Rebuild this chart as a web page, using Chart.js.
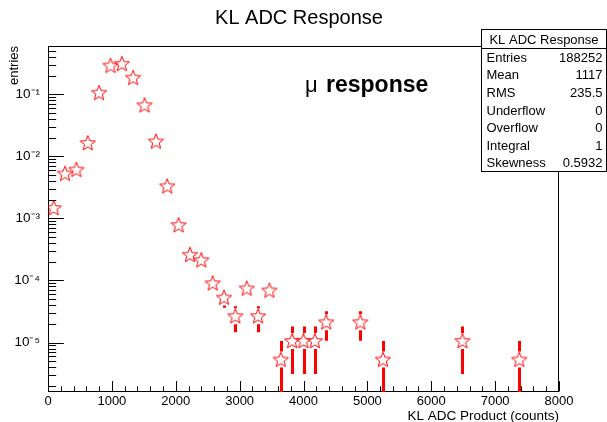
<!DOCTYPE html>
<html><head><meta charset="utf-8">
<script src="https://cdn.jsdelivr.net/npm/chart.js@4/dist/chart.umd.min.js"></script>
<style>html,body{margin:0;padding:0;background:#fff;} #wrap{width:607px;height:422px;}</style>
</head><body><div id="wrap"><canvas id="c" width="607" height="422"></canvas></div>
<script>
// ---- texts ----
const chartTitle = 'KL ADC Response';
const xAxisTitle = 'KL ADC Product (counts)';
const yAxisTitle = 'entries';
const annotationSymbol = 'μ';
const annotationText = 'response';
const statsTitle = 'KL ADC Response';
const statsLabels = ['Entries', 'Mean', 'RMS', 'Underflow', 'Overflow', 'Integral', 'Skewness'];
const statsValues = ['188252', '1117', '235.5', '0', '0', '1', '0.5932'];

// ---- data (non-empty bins, bin width 177.8) ----
const binCenters = [88.9, 266.7, 444.4, 622.2, 800.0, 977.8, 1155.6, 1333.3, 1511.1, 1688.9,
  1866.7, 2044.4, 2222.2, 2400.0, 2577.8, 2755.6, 2933.3, 3111.1, 3288.9, 3466.7,
  3644.4, 3822.2, 4000.0, 4177.8, 4355.6, 4888.9, 5244.4, 6488.9, 7377.8];
const entries = [1.47e-3, 5.27e-3, 6.1e-3, 1.64e-2, 1.06e-1, 2.9e-1, 3.1e-1, 1.85e-1, 6.66e-2, 1.74e-2,
  3.3e-3, 7.8e-4, 2.6e-4, 2.125e-4, 9.03e-5, 5.31e-5, 2.656e-5, 7.44e-5, 2.656e-5, 6.91e-5,
  5.31e-6, 1.062e-5, 1.062e-5, 1.062e-5, 2.125e-5, 2.125e-5, 5.31e-6, 1.062e-5, 5.31e-6];
const errors = [8.8e-5, 1.67e-4, 1.8e-4, 2.95e-4, 7.5e-4, 1.24e-3, 1.28e-3, 9.9e-4, 5.95e-4, 3.04e-4,
  1.32e-4, 6.4e-5, 3.72e-5, 3.36e-5, 2.19e-5, 1.68e-5, 1.188e-5, 1.99e-5, 1.188e-5, 1.915e-5,
  5.31e-6, 7.51e-6, 7.51e-6, 7.51e-6, 1.062e-5, 1.062e-5, 5.31e-6, 7.51e-6, 5.31e-6];

// ---- axes ----
const xRange = [0, 8000];
const yRange = [1.594e-6, 0.6];
const xTickValues = [0, 1000, 2000, 3000, 4000, 5000, 6000, 7000, 8000];
const xTickLabels = ['0', '1000', '2000', '3000', '4000', '5000', '6000', '7000', '8000'];
const xMinorStep = 200;
const yTickValues = [1e-5, 1e-4, 1e-3, 1e-2, 1e-1];
const yTickLabels = ['10⁻⁵', '10⁻⁴', '10⁻³', '10⁻²', '10⁻¹'];

const FONT = "'Liberation Sans', Arial, Helvetica, sans-serif";
const RED = '#ff0000';

// open star marker
function makeStar() {
  const c = document.createElement('canvas');
  c.width = 20; c.height = 20;
  const g = c.getContext('2d');
  const R = 8, r = 3.4, cx = 10, cy = 10.5;
  g.beginPath();
  for (let k = 0; k < 10; k++) {
    const rad = k % 2 === 0 ? R : r;
    const a = -Math.PI / 2 + k * Math.PI / 5;
    const px = cx + rad * Math.cos(a), py = cy + rad * Math.sin(a);
    if (k === 0) g.moveTo(px, py); else g.lineTo(px, py);
  }
  g.closePath();
  g.strokeStyle = RED; g.lineWidth = 1;
  g.stroke();
  return c;
}
const starImg = makeStar();

const errorBarPlugin = {
  id: 'errorBars',
  afterDatasetsDraw(chart) {
    const {ctx, chartArea: a, scales: {x, y}} = chart;
    ctx.save();
    ctx.beginPath(); ctx.rect(a.left, a.top, a.right - a.left, a.bottom - a.top); ctx.clip();
    ctx.strokeStyle = RED; ctx.lineWidth = 3;
    const gapUp = 8, gapDown = 8;
    for (let i = 0; i < entries.length; i++) {
      const px = Math.round(x.getPixelForValue(binCenters[i])) + 0.5;
      const py = y.getPixelForValue(entries[i]);
      const hi = y.getPixelForValue(entries[i] + errors[i]);
      const loV = entries[i] - errors[i];
      const lo = loV > 0 ? y.getPixelForValue(loV) : a.bottom + 5;
      ctx.beginPath();
      if (hi < py - gapUp - 1) { ctx.moveTo(px, py - gapUp); ctx.lineTo(px, hi); }
      if (lo > py + gapDown + 1) { ctx.moveTo(px, py + gapDown); ctx.lineTo(px, lo); }
      ctx.stroke();
    }
    ctx.restore();
  }
};

const framePlugin = {
  id: 'rootFrame',
  beforeDatasetsDraw(chart) {
    const {ctx, chartArea: a, scales: {x, y}} = chart;
    ctx.save();
    ctx.strokeStyle = '#000'; ctx.lineWidth = 1;
    // frame
    ctx.strokeRect(Math.round(a.left) + 0.5, Math.round(a.top) + 0.5,
      Math.round(a.right - a.left) - 1, Math.round(a.bottom - a.top) - 1);
    const bottom = Math.round(a.bottom) - 0.5;
    const left = Math.round(a.left) + 0.5;
    const xMajor = 0.03 * (a.bottom - a.top), xMinor = xMajor / 2;
    const yMajor = 0.03 * (a.right - a.left), yMinor = yMajor / 2;
    ctx.beginPath();
    for (let v = xRange[0]; v <= xRange[1] + 1e-9; v += xMinorStep) {
      const px = Math.round(x.getPixelForValue(v)) + 0.5;
      const len = xTickValues.includes(v) ? xMajor : xMinor;
      ctx.moveTo(px, bottom); ctx.lineTo(px, bottom - len);
    }
    for (let k = -6; k <= 0; k++) {
      for (let m = 1; m <= 9; m++) {
        const v = m * Math.pow(10, k);
        if (v < yRange[0] || v > yRange[1]) continue;
        const py = Math.round(y.getPixelForValue(v)) + 0.5;
        const len = m === 1 ? yMajor : yMinor;
        ctx.moveTo(left, py); ctx.lineTo(left + len, py);
      }
    }
    ctx.stroke();
    ctx.restore();
  },
  afterDraw(chart) {
    const {ctx} = chart;
    ctx.save();
    // annotation
    ctx.fillStyle = '#000';
    ctx.textBaseline = 'alphabetic';
    ctx.textAlign = 'left';
    ctx.font = '22px ' + FONT;
    ctx.fillText(annotationSymbol, 305, 92);
    ctx.font = 'bold 23px ' + FONT;
    ctx.fillText(annotationText, 326, 92);
    // stats box
    const bx = 481.5, by = 29.5, bw = 125, bh = 142, head = 19;
    ctx.fillStyle = '#fff';
    ctx.fillRect(bx, by, bw, bh);
    ctx.strokeStyle = '#000'; ctx.lineWidth = 1;
    ctx.strokeRect(bx, by, bw, bh);
    ctx.beginPath(); ctx.moveTo(bx, by + head); ctx.lineTo(bx + bw, by + head); ctx.stroke();
    ctx.fillStyle = '#000';
    ctx.font = '13px ' + FONT;
    ctx.textBaseline = 'middle';
    ctx.textAlign = 'center';
    ctx.fillText(statsTitle, bx + bw / 2, by + head / 2 + 1);
    const rowH = (bh - head) / statsLabels.length;
    for (let i = 0; i < statsLabels.length; i++) {
      const cy = by + head + rowH * (i + 0.5) + 1;
      ctx.textAlign = 'left';
      ctx.fillText(statsLabels[i], bx + 5, cy);
      ctx.textAlign = 'right';
      ctx.fillText(statsValues[i], bx + bw - 4, cy);
    }
    ctx.restore();
  }
};

new Chart(document.getElementById('c'), {
  type: 'scatter',
  data: {
    datasets: [{
      label: 'mu',
      data: binCenters.map((v, i) => ({x: v, y: entries[i]})),
      pointStyle: starImg,
      showLine: false,
      borderColor: RED,
      backgroundColor: RED
    }]
  },
  options: {
    responsive: false,
    animation: false,
    devicePixelRatio: 1,
    layout: {padding: {left: 0, right: 9, top: 0, bottom: 0}},
    plugins: {
      legend: {display: false},
      tooltip: {enabled: false},
      title: {
        display: true, text: chartTitle, color: '#000',
        font: {family: FONT, size: 20, weight: 'normal', lineHeight: 1.2},
        padding: {top: 6, bottom: 16}
      }
    },
    scales: {
      x: {
        type: 'linear', position: 'bottom', min: xRange[0], max: xRange[1],
        afterBuildTicks: s => { s.ticks = xTickValues.map(v => ({value: v})); },
        afterFit: s => { s.height = 30; },
        grid: {display: false, drawTicks: false, tickLength: 0},
        border: {display: false},
        ticks: {
          color: '#000', font: {family: FONT, size: 13}, padding: 2, maxRotation: 0, autoSkip: false,
          callback: (v) => xTickLabels[xTickValues.indexOf(v)] ?? ''
        },
        title: {
          display: true, text: xAxisTitle, align: 'end', color: '#000',
          font: {family: FONT, size: 13.5, lineHeight: 0.85}, padding: {top: 0, bottom: 0}
        }
      },
      y: {
        type: 'logarithmic', position: 'left', min: yRange[0], max: yRange[1],
        afterBuildTicks: s => { s.ticks = yTickValues.map(v => ({value: v})); },
        afterFit: s => { s.width = 48; },
        grid: {display: false, drawTicks: false, tickLength: 0},
        border: {display: false},
        ticks: {
          color: '#000', font: {family: FONT, size: 13.5}, padding: 8, autoSkip: false,
          callback: (v) => { const i = yTickValues.findIndex(t => Math.abs(t - v) / t < 1e-6); return i >= 0 ? yTickLabels[i] : ''; }
        },
        title: {
          display: true, text: yAxisTitle, align: 'end', color: '#000',
          font: {family: FONT, size: 13, lineHeight: 1.2}, padding: {top: 7, bottom: 0}
        }
      },
      yRight: {
        type: 'linear', position: 'right', display: true,
        afterFit: s => { s.width = 39; },
        grid: {display: false, drawTicks: false},
        border: {display: false},
        ticks: {display: false}
      }
    }
  },
  plugins: [framePlugin, errorBarPlugin]
});
</script>
</body></html>
